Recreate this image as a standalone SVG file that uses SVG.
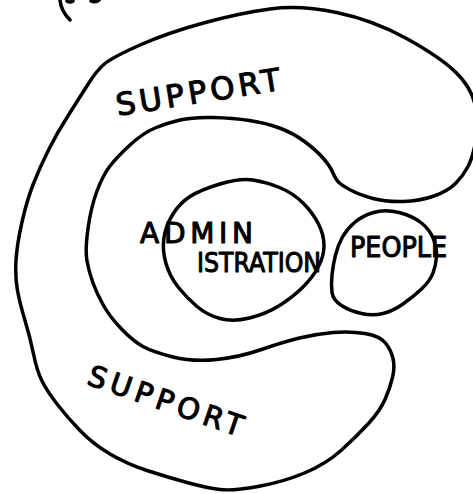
<svg xmlns="http://www.w3.org/2000/svg" width="473" height="494" viewBox="0 0 473 494">
  <style>
    .ink { fill: none; stroke: #000; stroke-width: 3.5; stroke-linecap: round; stroke-linejoin: round; }
    .lbl { font-family: "DejaVu Sans", "Liberation Sans", sans-serif; fill: #000; stroke: #000; stroke-width: 1.1; stroke-linejoin: round; }
  </style>
  <rect width="473" height="494" fill="#fff"/>

  <!-- cut-off fragment at the top edge -->
  <path class="ink" d="M 60,0 Q 61,11 70,20"/>
  <path class="ink" d="M 67,1 Q 70,3 73,1"/>
  <path class="ink" d="M 91,1 Q 95,3 99,0"/>

  <g id="support">
    <path class="ink" d="M 270,9 Q 300,5 336.5,12.5 Q 373,20 406.5,38.5 Q 440,57 455.5,72 Q 471,87 475,104.5 Q 479,122 476,139.5 Q 473,157 468,166.5 Q 463,176 455.5,183.5 Q 448,191 434,196 Q 420,201 403,201.5 Q 386,202 373,198.5 Q 360,195 351.5,190.5 Q 343,186 339.5,183 Q 336,180 333,173 Q 330,166 323,158 Q 316,150 304.5,141.5 Q 293,133 279.5,128 Q 266,123 249.5,120.5 Q 233,118 213,117.5 Q 193,117 180,120 Q 167,123 155,128 Q 143,133 130,145 Q 117,157 110,166 Q 103,175 97,191 Q 91,207 88,228.5 Q 85,250 87,261 Q 89,272 93,283 Q 97,294 103.5,305.5 Q 110,317 121.5,329 Q 133,341 143,346.5 Q 153,352 173,357 Q 193,362 216.5,359.5 Q 240,357 261.5,349.5 Q 283,342 299.5,338 Q 316,334 333,332.5 Q 350,331 365,333.5 Q 380,336 385.5,343 Q 391,350 393,358.5 Q 395,367 392.5,377.5 Q 390,388 385,399.5 Q 380,411 368,424 Q 356,437 341,450.5 Q 326,464 304.5,473 Q 283,482 258,486.5 Q 233,491 220,489.5 Q 207,488 187,482.5 Q 167,477 147,470.5 Q 127,464 110,454 Q 93,444 80,430.5 Q 67,417 57,404 Q 47,391 42,381 Q 37,371 33.5,354 Q 30,337 25,320.5 Q 20,304 17.5,290.5 Q 15,277 16,260.5 Q 17,244 22,222 Q 27,200 33.5,183.5 Q 40,167 48.5,150 Q 57,133 68.5,115 Q 80,97 88.5,83.5 Q 97,70 105,63.5 Q 113,57 140,45 Q 167,33 203.5,23 Q 240,13 270,9 Z"/>
    <text class="lbl" x="198" y="103" font-size="31" text-anchor="middle" textLength="166" lengthAdjust="spacing" transform="rotate(-9 198 92)">SUPPORT</text>
    <text class="lbl" x="166" y="411" font-size="29" text-anchor="middle" textLength="162" lengthAdjust="spacing" transform="rotate(19 166 400)">SUPPORT</text>
  </g>

  <g id="administration">
    <path class="ink" d="M 253,180 Q 266,182 279.5,187.5 Q 293,193 303,203 Q 313,213 318.5,224 Q 324,235 324,245.5 Q 324,256 318.5,266.5 Q 313,277 303,287 Q 293,297 279.5,305.5 Q 266,314 249.5,318 Q 233,322 220,318.5 Q 207,315 197,306.5 Q 187,298 178.5,287.5 Q 170,277 166,263.5 Q 162,250 164,237.5 Q 166,225 173,214 Q 180,203 190,196.5 Q 200,190 220,184 Q 240,178 253,180 Z"/>
    <text class="lbl" x="140" y="243" font-size="28" textLength="113" lengthAdjust="spacing">ADMIN</text>
    <text class="lbl" x="197" y="272" font-size="27" textLength="124" lengthAdjust="spacingAndGlyphs">ISTRATION</text>
  </g>

  <g id="people">
    <path class="ink" d="M 399,212.5 Q 413,216 421.5,223 Q 430,230 433.5,239 Q 437,248 436.5,256.5 Q 436,265 433,273 Q 430,281 421.5,289 Q 413,297 403,304 Q 393,311 383,313.5 Q 373,316 361.5,313.5 Q 350,311 341.5,305.5 Q 333,300 332,292.5 Q 331,285 332,275 Q 333,265 335.5,255 Q 338,245 342.5,237 Q 347,229 354.5,222.5 Q 362,216 373.5,212.5 Q 385,209 399,212.5 Z"/>
    <text class="lbl" x="350" y="257" font-size="28" textLength="97" lengthAdjust="spacingAndGlyphs">PEOPLE</text>
  </g>
</svg>
